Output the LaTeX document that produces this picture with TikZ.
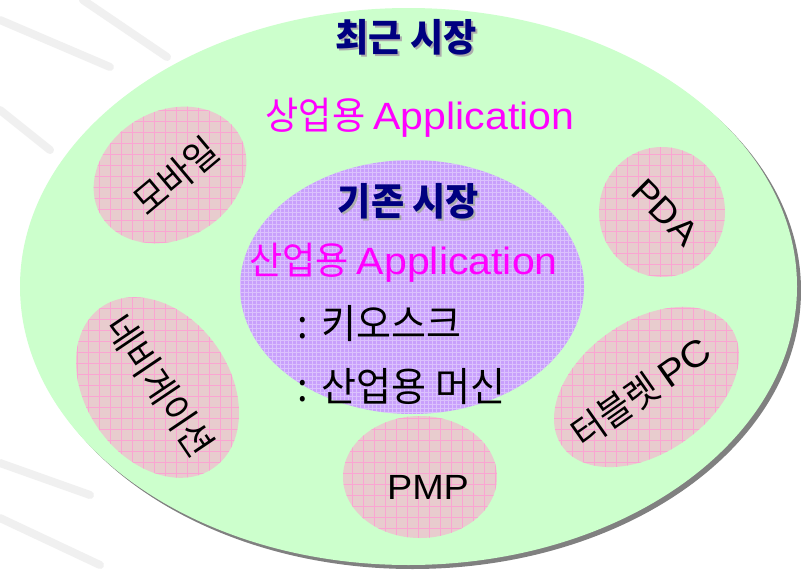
\documentclass[tikz,border=0pt]{standalone}
\usepackage{fontspec}
\newfontfamily\kr[FakeStretch=0.95]{Noto Sans CJK KR}
\newfontfamily\lat[FakeStretch=1.08]{Liberation Sans}
\definecolor{outergreen}{RGB}{204,255,204}
\definecolor{lav}{RGB}{200,160,252}
\definecolor{pinkbase}{RGB}{232,204,206}
\definecolor{pinkline}{RGB}{250,165,210}
\definecolor{navyc}{RGB}{0,0,128}
\definecolor{magc}{RGB}{255,0,255}
\definecolor{shadowc}{RGB}{128,128,128}
\newcommand\pinkoval[5]{%
  \begin{scope}
    \clip[shift={(#1,#2)},rotate=#5] (0,0) ellipse [x radius=#3, y radius=#4];
    \fill[pinkbase] ({#1-120},{#2-120}) rectangle ({#1+120},{#2+120});
    \draw[pinkgrid] ({#1-120},{#2-120}) grid ({#1+120},{#2+120});
  \end{scope}}
\newcommand\shadowed[1]{\makebox[0pt][l]{\hspace{2pt}\raisebox{-2pt}{\color{gray!65}#1}}#1}
\begin{document}
\begin{tikzpicture}[x=1pt,y=1pt,
  pinkgrid/.style={pinkline, line width=0.5pt, step=11pt},
  streak/.style={gray!12, line width=8pt, line cap=round},
  titletext/.style={font=\kr\bfseries\fontsize{38}{44}\selectfont, text=navyc, inner sep=0pt, anchor=base},
  apptext/.style={font=\kr\fontsize{38}{44}\selectfont, text=magc, inner sep=0pt, anchor=base},
  itemtext/.style={font=\kr\fontsize{40}{46}\selectfont, text=black, inner sep=0pt, anchor=base west},
  lbl/.style={font=\kr\fontsize{37}{44}\selectfont, text=black, inner sep=0pt},
  latlbl/.style={font=\lat\fontsize{35}{40}\selectfont, text=black, inner sep=0pt}
]
\useasboundingbox (0,0) rectangle (801,-570);
\fill[white] (0,0) rectangle (801,-570);
% faint background streaks
\draw[streak] (0,-20) -- (110,-67);
\draw[streak] (83,0) -- (167,-57);
\draw[streak] (0,-110) -- (50,-150);
\draw[streak] (0,-463) -- (90,-495);
\draw[streak] (0,-518) -- (100,-565);
% outer ellipse with shadow
\fill[shadowc] (412.5,-290.5) ellipse [x radius=388.5, y radius=278.5];
\fill[outergreen] (408.5,-286.5) ellipse [x radius=388.5, y radius=278.5];
% inner ellipse
\begin{scope}
  \clip (412,-287) ellipse [x radius=172, y radius=127];
  \fill[lav] (230,-150) rectangle (600,-420);
  \draw[white, opacity=0.35, line width=0.7pt, step=4pt] (230,-420) grid (600,-150);
\end{scope}
% small ovals
\pinkoval{170}{-175}{80}{64}{30}
\pinkoval{662}{-212}{63}{65}{0}
\pinkoval{157.5}{-387.5}{98}{72}{-55}
\pinkoval{420}{-477}{77}{61}{0}
\pinkoval{646.5}{-387}{103}{66}{35}
% titles
\node[titletext] (t1) at (406,-51) {\shadowed{최근 시장}};
\node[apptext] (app1) at (420,-129) {상업용 {\lat\fontsize{38}{44}\selectfont Application}};
\node[titletext] (t2) at (408.5,-215) {\shadowed{기존 시장}};
\node[apptext] (app2) at (403.5,-274) {산업용 {\lat\fontsize{38}{44}\selectfont Application}};
\node[itemtext] (i1) at (297,-338) {:\hspace{14pt}키오스크};
\node[itemtext] (i2) at (297,-401) {:\hspace{14pt}산업용 머신};
% oval labels
\node[lbl, rotate=40] (mobile) at (176,-176) {모바일};
\node[latlbl, rotate=-45] (pda) at (665,-212) {PDA};
\node[lbl, rotate=-56] (navi) at (160,-386) {네비게이션};
\node[latlbl] (pmp) at (428,-487) {PMP};
\node[lbl, rotate=35] (tablet) at (641,-392) {터블렛 {\lat PC}};
\end{tikzpicture}
\end{document}
